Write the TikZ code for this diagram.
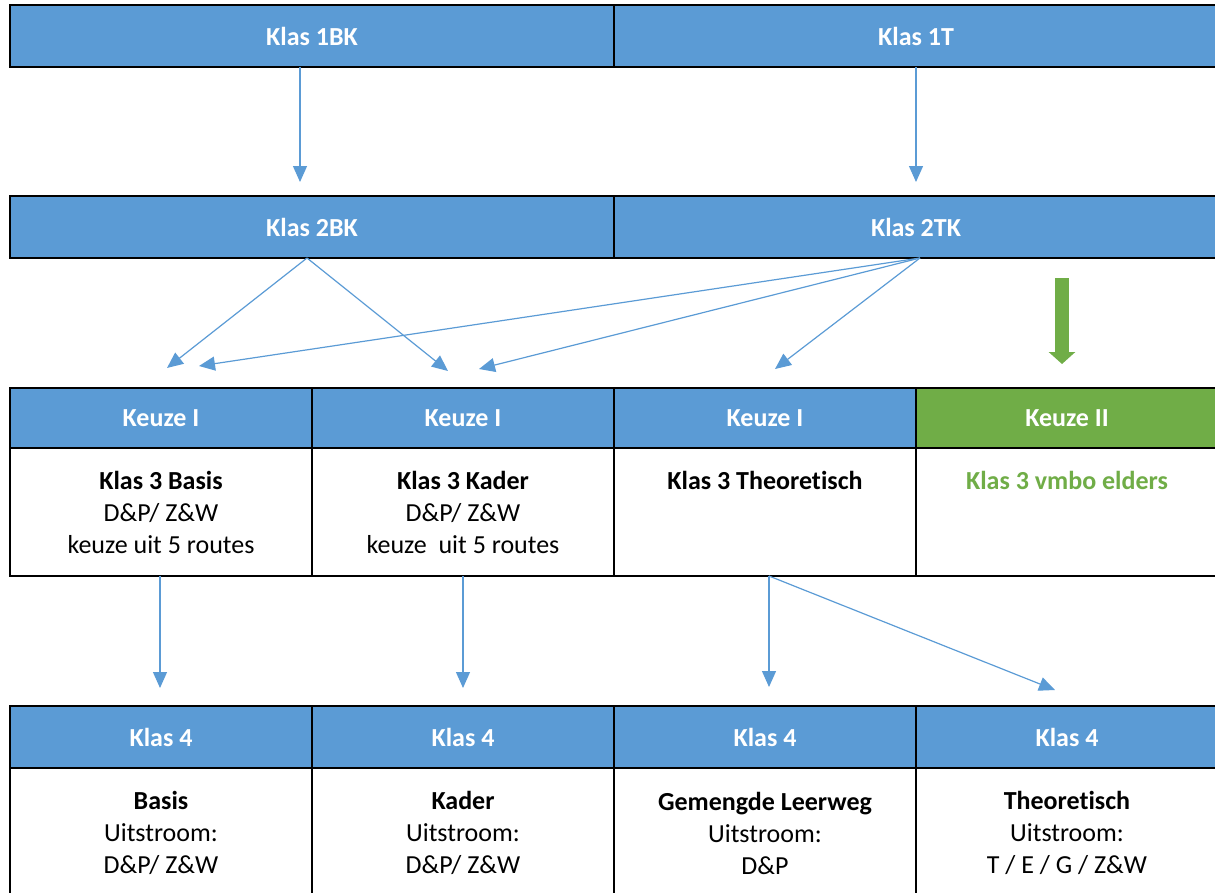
\documentclass[tikz,border=0pt]{standalone}
\usepackage{fontspec}
\setmainfont[Ligatures=NoCommon]{Carlito}
\usetikzlibrary{arrows.meta, positioning}

\definecolor{kopblauw}{HTML}{5B9BD5}
\definecolor{kopgroen}{HTML}{70AD47}

\begin{document}
\begin{tikzpicture}[x=1pt, y=-1pt, node distance=0pt,
  cel/.style={draw=black, line width=1.6pt, inner sep=0pt, outer sep=0pt,
    align=center, font=\fontsize{26}{32}\selectfont},
  kop/.style={cel, fill=kopblauw, text=white, minimum height=62pt,
    font=\fontsize{26}{32}\selectfont\bfseries},
  vak/.style={cel, fill=white, minimum width=302pt},
  pijl/.style={draw=kopblauw, line width=1.2pt, -{Triangle[length=16pt, width=14pt]}}]
  \useasboundingbox (0,0) rectangle (1215,892);

  % klas 1 en 2
  \node[kop, anchor=north west, minimum width=604pt] (k1bk) at (10,5) {Klas 1BK};
  \node[kop, minimum width=604pt, right=of k1bk] (k1t) {Klas 1T};
  \node[kop, anchor=north west, minimum width=604pt] (k2bk) at (10,196) {Klas 2BK};
  \node[kop, minimum width=604pt, right=of k2bk] (k2tk) {Klas 2TK};

  % klas 3
  \node[kop, anchor=north west, minimum width=302pt, minimum height=60pt] (kz1) at (10,388) {Keuze I};
  \node[kop, minimum width=302pt, minimum height=60pt, right=of kz1] (kz2) {Keuze I};
  \node[kop, minimum width=302pt, minimum height=60pt, right=of kz2] (kz3) {Keuze I};
  \node[kop, fill=kopgroen, minimum width=302pt, minimum height=60pt, right=of kz3] (kz4) {Keuze II};
  \node[vak, minimum height=128pt, below=of kz1] (k3b) {\textbf{Klas 3 Basis}\\D\&P/ Z\&W\\keuze uit 5 routes};
  \node[vak, minimum height=128pt, below=of kz2] (k3k) {\textbf{Klas 3 Kader}\\D\&P/ Z\&W\\keuze~ uit 5 routes};
  \node[vak, minimum height=128pt, below=of kz3] (k3t) {\textbf{Klas 3 Theoretisch}\\~\\~};
  \node[vak, minimum height=128pt, below=of kz4, text=kopgroen] (k3e) {\textbf{Klas 3 vmbo elders}\\~\\~};

  % klas 4
  \node[kop, anchor=north west, minimum width=302pt] (h4b) at (10,706) {Klas 4};
  \node[kop, minimum width=302pt, right=of h4b] (h4k) {Klas 4};
  \node[kop, minimum width=302pt, right=of h4k] (h4g) {Klas 4};
  \node[kop, minimum width=302pt, right=of h4g] (h4t) {Klas 4};
  \node[vak, minimum height=130pt, below=of h4b] (k4b) {\textbf{Basis}\\Uitstroom:\\D\&P/ Z\&W};
  \node[vak, minimum height=130pt, below=of h4k] (k4k) {\textbf{Kader}\\Uitstroom:\\D\&P/ Z\&W};
  \node[vak, minimum height=130pt, below=of h4g] (k4g) {\textbf{Gemengde Leerweg}\\Uitstroom:\\D\&P};
  \node[vak, minimum height=130pt, below=of h4t] (k4t) {\textbf{Theoretisch}\\Uitstroom:\\T / E / G / Z\&W};

  % pijlpunten
  \coordinate (p1) at (300,182);
  \coordinate (p2) at (916,182);
  \coordinate (p3) at (167,368);
  \coordinate (p4) at (448,371);
  \coordinate (p5) at (199,366);
  \coordinate (p6) at (479,369);
  \coordinate (p7) at (775,369);
  \coordinate (p8) at (160,688);
  \coordinate (p9) at (463,688);
  \coordinate (p10) at (769,687);
  \coordinate (p11) at (1055,690);

  \draw[pijl] (k1bk.south -| p1) -- (p1);
  \draw[pijl] (k1t.south -| p2) -- (p2);
  \draw[pijl] ([xshift=-5pt]k2bk.south) -- (p3);
  \draw[pijl] ([xshift=-5pt]k2bk.south) -- (p4);
  \draw[pijl] ([xshift=4pt]k2tk.south) -- (p5);
  \draw[pijl] ([xshift=4pt]k2tk.south) -- (p6);
  \draw[pijl] ([xshift=4pt]k2tk.south) -- (p7);
  \draw[pijl] (k3b.south -| p8) -- (p8);
  \draw[pijl] (k3k.south -| p9) -- (p9);
  \draw[pijl] (k3t.south -| p10) -- (p10);
  \draw[pijl] (k3t.south -| p10) -- (p11);

  % groene pijl
  \coordinate (g1) at (1062,278);
  \coordinate (g2) at (1062,364);
  \draw[draw=kopgroen, line width=14pt, -{Triangle[length=12pt, width=26pt]}] (g1) -- (g2);
\end{tikzpicture}
\end{document}
